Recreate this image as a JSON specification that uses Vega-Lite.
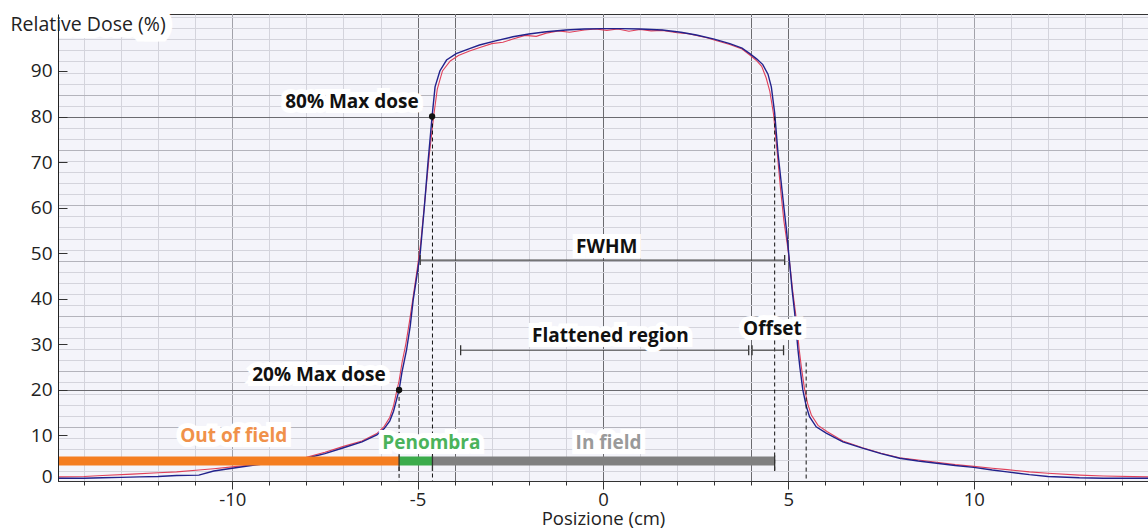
{
  "$schema": "https://vega.github.io/schema/vega-lite/v6.json",
  "width": 1090,
  "height": 467,
  "autosize": {"type": "none"},
  "padding": {"left": 58, "top": 14, "right": 0, "bottom": 48},
  "background": "white",
  "config": {
    "view": {"fill": "#f4f4fa", "stroke": "#333333", "strokeWidth": 1},
    "font": "Open Sans"
  },
  "datasets": {
    "profile": [
      {"profile": "red", "x": -14.7, "dose": 0.9}, {"profile": "red", "x": -14.0, "dose": 1.0}, {"profile": "red", "x": -13.5, "dose": 1.2},
      {"profile": "red", "x": -12.7, "dose": 1.5}, {"profile": "red", "x": -12.0, "dose": 1.8}, {"profile": "red", "x": -11.5, "dose": 2.0},
      {"profile": "red", "x": -10.9, "dose": 2.4}, {"profile": "red", "x": -10.5, "dose": 2.7}, {"profile": "red", "x": -10.0, "dose": 3.1},
      {"profile": "red", "x": -9.5, "dose": 3.5}, {"profile": "red", "x": -9.0, "dose": 4.0}, {"profile": "red", "x": -8.5, "dose": 4.5},
      {"profile": "red", "x": -8.0, "dose": 5.2}, {"profile": "red", "x": -7.5, "dose": 6.3}, {"profile": "red", "x": -7.0, "dose": 7.6},
      {"profile": "red", "x": -6.5, "dose": 8.8}, {"profile": "red", "x": -6.1, "dose": 10.4}, {"profile": "red", "x": -5.9, "dose": 12.0},
      {"profile": "red", "x": -5.75, "dose": 14.0}, {"profile": "red", "x": -5.65, "dose": 16.5}, {"profile": "red", "x": -5.57, "dose": 19.5},
      {"profile": "red", "x": -5.5, "dose": 22.0}, {"profile": "red", "x": -5.42, "dose": 26.0}, {"profile": "red", "x": -5.32, "dose": 30.0},
      {"profile": "red", "x": -5.22, "dose": 35.0}, {"profile": "red", "x": -5.12, "dose": 40.5}, {"profile": "red", "x": -5.02, "dose": 46.0},
      {"profile": "red", "x": -4.92, "dose": 52.0}, {"profile": "red", "x": -4.8, "dose": 62.0}, {"profile": "red", "x": -4.68, "dose": 72.0},
      {"profile": "red", "x": -4.56, "dose": 80.5}, {"profile": "red", "x": -4.47, "dose": 86.0}, {"profile": "red", "x": -4.33, "dose": 90.0},
      {"profile": "red", "x": -4.12, "dose": 92.2}, {"profile": "red", "x": -3.9, "dose": 93.4}, {"profile": "red", "x": -3.6, "dose": 94.4},
      {"profile": "red", "x": -3.3, "dose": 95.2}, {"profile": "red", "x": -3.0, "dose": 96.0}, {"profile": "red", "x": -2.7, "dose": 96.3},
      {"profile": "red", "x": -2.43, "dose": 97.0}, {"profile": "red", "x": -2.1, "dose": 97.8}, {"profile": "red", "x": -1.8, "dose": 97.6},
      {"profile": "red", "x": -1.53, "dose": 98.3}, {"profile": "red", "x": -1.2, "dose": 98.8}, {"profile": "red", "x": -0.9, "dose": 98.5},
      {"profile": "red", "x": -0.5, "dose": 99.0}, {"profile": "red", "x": -0.2, "dose": 99.2}, {"profile": "red", "x": 0.1, "dose": 98.9},
      {"profile": "red", "x": 0.4, "dose": 99.2}, {"profile": "red", "x": 0.7, "dose": 98.7}, {"profile": "red", "x": 1.0, "dose": 99.1},
      {"profile": "red", "x": 1.3, "dose": 98.8}, {"profile": "red", "x": 1.6, "dose": 98.9}, {"profile": "red", "x": 2.0, "dose": 98.4},
      {"profile": "red", "x": 2.3, "dose": 98.2}, {"profile": "red", "x": 2.52, "dose": 97.8}, {"profile": "red", "x": 2.8, "dose": 97.3},
      {"profile": "red", "x": 3.0, "dose": 96.8}, {"profile": "red", "x": 3.42, "dose": 95.8}, {"profile": "red", "x": 3.75, "dose": 94.8},
      {"profile": "red", "x": 3.96, "dose": 93.5}, {"profile": "red", "x": 4.15, "dose": 92.2}, {"profile": "red", "x": 4.28, "dose": 91.0},
      {"profile": "red", "x": 4.4, "dose": 88.5}, {"profile": "red", "x": 4.5, "dose": 85.5}, {"profile": "red", "x": 4.6, "dose": 80.5},
      {"profile": "red", "x": 4.7, "dose": 72.0}, {"profile": "red", "x": 4.79, "dose": 64.0}, {"profile": "red", "x": 4.88, "dose": 57.0},
      {"profile": "red", "x": 4.97, "dose": 52.0}, {"profile": "red", "x": 5.04, "dose": 47.5}, {"profile": "red", "x": 5.12, "dose": 41.5},
      {"profile": "red", "x": 5.2, "dose": 36.5}, {"profile": "red", "x": 5.29, "dose": 29.0}, {"profile": "red", "x": 5.35, "dose": 25.0},
      {"profile": "red", "x": 5.43, "dose": 20.5}, {"profile": "red", "x": 5.52, "dose": 17.0}, {"profile": "red", "x": 5.62, "dose": 14.5},
      {"profile": "red", "x": 5.8, "dose": 12.2}, {"profile": "red", "x": 6.05, "dose": 10.8}, {"profile": "red", "x": 6.47, "dose": 8.8},
      {"profile": "red", "x": 7.0, "dose": 7.3}, {"profile": "red", "x": 7.5, "dose": 6.1}, {"profile": "red", "x": 8.0, "dose": 5.1},
      {"profile": "red", "x": 8.5, "dose": 4.6}, {"profile": "red", "x": 9.0, "dose": 4.1}, {"profile": "red", "x": 9.5, "dose": 3.6},
      {"profile": "red", "x": 10.0, "dose": 3.2}, {"profile": "red", "x": 10.5, "dose": 2.8}, {"profile": "red", "x": 10.9, "dose": 2.5},
      {"profile": "red", "x": 11.5, "dose": 2.0}, {"profile": "red", "x": 12.0, "dose": 1.7}, {"profile": "red", "x": 12.85, "dose": 1.3},
      {"profile": "red", "x": 13.5, "dose": 1.1}, {"profile": "red", "x": 14.7, "dose": 0.9},
      {"profile": "blue", "x": -14.7, "dose": 0.6}, {"profile": "blue", "x": -14.0, "dose": 0.6}, {"profile": "blue", "x": -13.5, "dose": 0.7},
      {"profile": "blue", "x": -13.0, "dose": 0.8}, {"profile": "blue", "x": -12.5, "dose": 0.9}, {"profile": "blue", "x": -12.0, "dose": 1.0},
      {"profile": "blue", "x": -11.5, "dose": 1.2}, {"profile": "blue", "x": -10.9, "dose": 1.3}, {"profile": "blue", "x": -10.5, "dose": 2.2},
      {"profile": "blue", "x": -10.0, "dose": 2.8}, {"profile": "blue", "x": -9.4, "dose": 3.5}, {"profile": "blue", "x": -9.0, "dose": 3.9},
      {"profile": "blue", "x": -8.5, "dose": 4.4}, {"profile": "blue", "x": -8.0, "dose": 5.0}, {"profile": "blue", "x": -7.5, "dose": 6.0},
      {"profile": "blue", "x": -7.0, "dose": 7.3}, {"profile": "blue", "x": -6.5, "dose": 8.6}, {"profile": "blue", "x": -6.1, "dose": 10.1},
      {"profile": "blue", "x": -5.9, "dose": 11.5}, {"profile": "blue", "x": -5.75, "dose": 13.2}, {"profile": "blue", "x": -5.65, "dose": 15.3},
      {"profile": "blue", "x": -5.57, "dose": 17.8}, {"profile": "blue", "x": -5.5, "dose": 20.0}, {"profile": "blue", "x": -5.42, "dose": 24.0},
      {"profile": "blue", "x": -5.3, "dose": 28.7}, {"profile": "blue", "x": -5.2, "dose": 34.0}, {"profile": "blue", "x": -5.12, "dose": 39.7},
      {"profile": "blue", "x": -5.02, "dose": 45.0}, {"profile": "blue", "x": -4.93, "dose": 50.0}, {"profile": "blue", "x": -4.82, "dose": 60.0},
      {"profile": "blue", "x": -4.72, "dose": 70.0}, {"profile": "blue", "x": -4.61, "dose": 80.0}, {"profile": "blue", "x": -4.53, "dose": 86.5},
      {"profile": "blue", "x": -4.4, "dose": 90.0}, {"profile": "blue", "x": -4.22, "dose": 92.4}, {"profile": "blue", "x": -3.96, "dose": 93.8},
      {"profile": "blue", "x": -3.6, "dose": 94.9}, {"profile": "blue", "x": -3.33, "dose": 95.7}, {"profile": "blue", "x": -2.9, "dose": 96.6},
      {"profile": "blue", "x": -2.43, "dose": 97.5}, {"profile": "blue", "x": -2.0, "dose": 98.1}, {"profile": "blue", "x": -1.53, "dose": 98.6},
      {"profile": "blue", "x": -1.0, "dose": 99.0}, {"profile": "blue", "x": -0.5, "dose": 99.2}, {"profile": "blue", "x": 0.0, "dose": 99.3},
      {"profile": "blue", "x": 0.5, "dose": 99.3}, {"profile": "blue", "x": 1.0, "dose": 99.2}, {"profile": "blue", "x": 1.6, "dose": 99.0},
      {"profile": "blue", "x": 2.1, "dose": 98.5}, {"profile": "blue", "x": 2.52, "dose": 97.9}, {"profile": "blue", "x": 3.0, "dose": 97.0},
      {"profile": "blue", "x": 3.42, "dose": 96.0}, {"profile": "blue", "x": 3.75, "dose": 95.0}, {"profile": "blue", "x": 3.96, "dose": 93.8},
      {"profile": "blue", "x": 4.15, "dose": 92.6}, {"profile": "blue", "x": 4.31, "dose": 91.4}, {"profile": "blue", "x": 4.45, "dose": 89.3},
      {"profile": "blue", "x": 4.54, "dose": 86.5}, {"profile": "blue", "x": 4.63, "dose": 80.8}, {"profile": "blue", "x": 4.72, "dose": 72.0},
      {"profile": "blue", "x": 4.8, "dose": 66.0}, {"profile": "blue", "x": 4.88, "dose": 60.0}, {"profile": "blue", "x": 4.95, "dose": 55.0},
      {"profile": "blue", "x": 5.02, "dose": 49.0}, {"profile": "blue", "x": 5.1, "dose": 42.0}, {"profile": "blue", "x": 5.17, "dose": 36.9},
      {"profile": "blue", "x": 5.26, "dose": 28.7}, {"profile": "blue", "x": 5.31, "dose": 25.0}, {"profile": "blue", "x": 5.39, "dose": 20.0},
      {"profile": "blue", "x": 5.48, "dose": 16.5}, {"profile": "blue", "x": 5.57, "dose": 14.1}, {"profile": "blue", "x": 5.75, "dose": 11.9},
      {"profile": "blue", "x": 6.02, "dose": 10.5}, {"profile": "blue", "x": 6.47, "dose": 8.6}, {"profile": "blue", "x": 7.0, "dose": 7.2},
      {"profile": "blue", "x": 7.5, "dose": 6.0}, {"profile": "blue", "x": 8.0, "dose": 5.0}, {"profile": "blue", "x": 8.5, "dose": 4.4},
      {"profile": "blue", "x": 9.0, "dose": 3.9}, {"profile": "blue", "x": 9.5, "dose": 3.4}, {"profile": "blue", "x": 10.0, "dose": 3.0},
      {"profile": "blue", "x": 10.5, "dose": 2.4}, {"profile": "blue", "x": 10.9, "dose": 2.0}, {"profile": "blue", "x": 11.5, "dose": 1.4},
      {"profile": "blue", "x": 12.0, "dose": 1.0}, {"profile": "blue", "x": 12.85, "dose": 0.7}, {"profile": "blue", "x": 13.5, "dose": 0.6},
      {"profile": "blue", "x": 14.7, "dose": 0.6}
    ],
    "bars": [
      {"group": "out", "x": -14.7, "x2": -5.5, "y": 4.4},
      {"group": "pen", "x": -5.5, "x2": -4.6, "y": 4.4},
      {"group": "in", "x": -4.6, "x2": 4.63, "y": 4.4}
    ],
    "dashes": [
      {"x": -5.5, "y": 20, "y2": 0},
      {"x": -4.6, "y": 80, "y2": 0},
      {"x": 4.63, "y": 80, "y2": 2.4},
      {"x": 5.48, "y": 26, "y2": 0}
    ],
    "measures": [
      {"name": "FWHM", "x": -4.93, "x2": 4.9, "y": 48.5},
      {"name": "Flattened region", "x": -3.84, "x2": 3.93, "y": 28.7},
      {"name": "Offset", "x": 4.02, "x2": 4.87, "y": 28.7}
    ],
    "caps": [
      {"x": -4.93, "y": 47.4, "y2": 49.6},
      {"x": 4.9, "y": 47.4, "y2": 49.6},
      {"x": -3.84, "y": 27.6, "y2": 29.8},
      {"x": 3.93, "y": 27.6, "y2": 29.8},
      {"x": 4.02, "y": 27.6, "y2": 29.8},
      {"x": 4.87, "y": 27.6, "y2": 29.8},
      {"x": -5.5, "y": 2.2, "y2": 5.6},
      {"x": -4.6, "y": 2.2, "y2": 5.6},
      {"x": 4.63, "y": 2.2, "y2": 5.6}
    ],
    "points": [
      {"x": -4.61, "y": 80},
      {"x": -5.5, "y": 20}
    ],
    "labels": [
      {"text": "80% Max dose", "x": -4.97, "y": 83.2, "group": "note"},
      {"text": "20% Max dose", "x": -5.86, "y": 23.3, "group": "note"},
      {"text": "FWHM", "x": 0.1, "y": 51.4, "group": "note"},
      {"text": "Flattened region", "x": 0.2, "y": 31.8, "group": "note"},
      {"text": "Offset", "x": 4.57, "y": 33.4, "group": "note"},
      {"text": "Out of field", "x": -9.96, "y": 9.9, "group": "out"},
      {"text": "Penombra", "x": -4.63, "y": 8.3, "group": "pen"},
      {"text": "In field", "x": 0.15, "y": 8.3, "group": "in"}
    ],
    "title": [
      {"text": "Relative Dose (%)", "x": -16.0, "y": 100.3}
    ]
  },
  "resolve": {"axis": {"x": "independent", "y": "independent"}},
  "layer": [
    {
      "data": {"name": "profile"},
      "transform": [{"filter": "datum.profile === 'red'"}],
      "mark": {"type": "line", "color": "#e0405a", "strokeWidth": 1.1},
      "encoding": {
        "x": {"field": "x", "type": "quantitative",
          "scale": {"domain": [-14.7, 14.7], "nice": false, "zero": false},
          "axis": {"orient": "bottom", "values": [-14,-13,-12,-11,-10,-9,-8,-7,-6,-5,-4,-3,-2,-1,0,1,2,3,4,5,6,7,8,9,10,11,12,13,14],
            "grid": true, "gridColor": "#d4d4dc", "gridWidth": 1, "ticks": true, "tickSize": 4, "tickColor": "#333333",
            "labels": false, "domain": false, "title": null}},
        "y": {"field": "dose", "type": "quantitative",
          "scale": {"domain": [0, 102.5], "nice": false, "zero": false},
          "axis": {"orient": "left", "values": [2.18,4.61,7.04,9.47,11.9,14.33,16.76,19.19,21.62,24.05,26.48,28.91,31.34,33.77,36.2,38.63,41.06,43.49,45.92,48.35,50.78,53.21,55.64,58.07,60.5,62.93,65.36,67.79,70.22,72.65,75.08,77.51,79.94,82.37,84.8,87.23,89.66,92.09,94.52,96.95,99.38,101.81],
            "grid": true, "gridColor": "#d4d4dc", "gridWidth": 1, "ticks": false, "labels": false, "domain": false, "title": null}}
      }
    },
    {
      "data": {"name": "profile"},
      "transform": [{"filter": "datum.profile === 'blue'"}],
      "mark": {"type": "line", "color": "#22228c", "strokeWidth": 1.4},
      "encoding": {
        "x": {"field": "x", "type": "quantitative",
          "scale": {"domain": [-14.7, 14.7], "nice": false, "zero": false},
          "axis": {"orient": "bottom", "values": [-10,-5,-4,0,4,5,10],
            "grid": true, "gridColor": {"condition": {"test": "abs(datum.value) === 10", "value": "#a2a2aa"}, "value": "#6b6b70"},
            "gridWidth": 1, "ticks": false, "labels": false, "domain": false, "title": null}},
        "y": {"field": "dose", "type": "quantitative",
          "scale": {"domain": [0, 102.5], "nice": false, "zero": false},
          "axis": {"orient": "left", "values": [11.9,24.05,36.2,48.35,60.5,72.65,84.8,20,80],
            "grid": true, "gridColor": {"condition": {"test": "datum.value === 20 || datum.value === 80", "value": "#6b6b70"}, "value": "#b4b4bc"},
            "gridWidth": 1, "ticks": false, "labels": false, "domain": false, "title": null}}
      }
    },
    {
      "data": {"name": "dashes"},
      "mark": {"type": "rule", "color": "#111111", "strokeWidth": 1, "strokeDash": [4, 3]},
      "encoding": {
        "x": {"field": "x", "type": "quantitative", "scale": {"domain": [-14.7, 14.7], "nice": false, "zero": false}, "axis": null},
        "y": {"field": "y", "type": "quantitative", "scale": {"domain": [0, 102.5], "nice": false, "zero": false},
          "axis": {"orient": "left", "values": [0,10,20,30,40,50,60,70,80,90], "grid": false, "ticks": true, "tickSize": -9,
            "tickColor": "#333333", "labels": false, "domain": false, "title": null}},
        "y2": {"field": "y2"}
      }
    },
    {
      "data": {"name": "bars"},
      "mark": {"type": "rule", "strokeWidth": 9, "strokeCap": "butt"},
      "encoding": {
        "x": {"field": "x", "type": "quantitative", "scale": {"domain": [-14.7, 14.7], "nice": false, "zero": false},
          "axis": {"orient": "bottom", "values": [-10,-5,0,5,10], "grid": false, "ticks": true, "tickSize": 8, "tickColor": "#333333",
            "domain": true, "domainColor": "#333333", "labelFont": "Open Sans", "labelFontSize": 18.5, "labelColor": "#222222",
            "labelPadding": 1, "labelFlush": false,
            "labelExpr": "datum.value < 0 ? '-' + abs(datum.value) : '' + datum.value",
            "title": "Posizione (cm)", "titleFont": "Open Sans", "titleFontSize": 18.5, "titleFontWeight": "normal",
            "titleColor": "#222222", "titleBaseline": "bottom", "titleY": 47, "zindex": 1}},
        "x2": {"field": "x2"},
        "y": {"field": "y", "type": "quantitative", "scale": {"domain": [0, 102.5], "nice": false, "zero": false},
          "axis": {"orient": "left", "values": [0,10,20,30,40,50,60,70,80,90], "grid": false, "ticks": false,
            "domain": true, "domainColor": "#222222", "labelFont": "Open Sans", "labelFontSize": 19, "labelColor": "#222222",
            "labelPadding": 6, "labelFlush": false,
            "labelOffset": {"condition": {"test": "datum.value === 0", "value": -5}, "value": 0},
            "title": "Relative Dose (%)", "titleAngle": 0, "titleAlign": "left", "titleBaseline": "middle",
            "titleX": -48, "titleY": 10, "titleFont": "Open Sans", "titleFontSize": 19.5, "titleFontWeight": "normal",
            "titleColor": "#222222", "zindex": 1}},
        "color": {"field": "group", "type": "nominal",
          "scale": {"domain": ["out", "pen", "in"], "range": ["#f47d20", "#3bab4b", "#808080"]}, "legend": null}
      }
    },
    {
      "data": {"name": "caps"},
      "mark": {"type": "rule", "color": "#333333", "strokeWidth": 1.3},
      "encoding": {
        "x": {"field": "x", "type": "quantitative", "scale": {"domain": [-14.7, 14.7], "nice": false, "zero": false}, "axis": null},
        "y": {"field": "y", "type": "quantitative", "scale": {"domain": [0, 102.5], "nice": false, "zero": false}, "axis": null},
        "y2": {"field": "y2"}
      }
    },
    {
      "data": {"name": "measures"},
      "mark": {"type": "rule", "color": "#4a4a4a", "strokeWidth": 1.2},
      "encoding": {
        "x": {"field": "x", "type": "quantitative", "scale": {"domain": [-14.7, 14.7], "nice": false, "zero": false}, "axis": null},
        "x2": {"field": "x2"},
        "y": {"field": "y", "type": "quantitative", "scale": {"domain": [0, 102.5], "nice": false, "zero": false}, "axis": null}
      }
    },
    {
      "data": {"name": "points"},
      "mark": {"type": "point", "filled": true, "color": "#111111", "size": 40, "opacity": 1},
      "encoding": {
        "x": {"field": "x", "type": "quantitative", "scale": {"domain": [-14.7, 14.7], "nice": false, "zero": false}, "axis": null},
        "y": {"field": "y", "type": "quantitative", "scale": {"domain": [0, 102.5], "nice": false, "zero": false}, "axis": null}
      }
    },
    {
      "data": {"name": "title"},
      "mark": {"type": "text", "align": "left", "baseline": "middle", "font": "Open Sans", "fontSize": 19.5,
        "fill": "white", "stroke": "white", "strokeWidth": 16, "strokeJoin": "miter"},
      "encoding": {
        "x": {"field": "x", "type": "quantitative", "scale": {"domain": [-14.7, 14.7], "nice": false, "zero": false}, "axis": null},
        "y": {"field": "y", "type": "quantitative", "scale": {"domain": [0, 102.5], "nice": false, "zero": false}, "axis": null},
        "text": {"field": "text"}
      }
    },
    {
      "data": {"name": "labels"},
      "transform": [{"filter": "indexof(datum.text, 'Max dose') >= 0"}],
      "mark": {"type": "text", "align": "right", "baseline": "middle", "font": "Open Sans", "fontSize": 19, "fontWeight": "bold",
        "fill": "white", "stroke": "white", "strokeWidth": 10, "strokeJoin": "miter"},
      "encoding": {
        "x": {"field": "x", "type": "quantitative", "scale": {"domain": [-14.7, 14.7], "nice": false, "zero": false}, "axis": null},
        "y": {"field": "y", "type": "quantitative", "scale": {"domain": [0, 102.5], "nice": false, "zero": false}, "axis": null},
        "text": {"field": "text"}
      }
    },
    {
      "data": {"name": "labels"},
      "transform": [{"filter": "indexof(datum.text, 'Max dose') < 0"}],
      "mark": {"type": "text", "align": "center", "baseline": "middle", "font": "Open Sans", "fontSize": 19, "fontWeight": "bold",
        "fill": "white", "stroke": "white", "strokeWidth": 10, "strokeJoin": "miter"},
      "encoding": {
        "x": {"field": "x", "type": "quantitative", "scale": {"domain": [-14.7, 14.7], "nice": false, "zero": false}, "axis": null},
        "y": {"field": "y", "type": "quantitative", "scale": {"domain": [0, 102.5], "nice": false, "zero": false}, "axis": null},
        "text": {"field": "text"}
      }
    },
    {
      "data": {"name": "labels"},
      "transform": [{"filter": "indexof(datum.text, 'Max dose') >= 0"}],
      "mark": {"type": "text", "align": "right", "baseline": "middle", "font": "Open Sans", "fontSize": 19, "fontWeight": "bold"},
      "encoding": {
        "x": {"field": "x", "type": "quantitative", "scale": {"domain": [-14.7, 14.7], "nice": false, "zero": false}, "axis": null},
        "y": {"field": "y", "type": "quantitative", "scale": {"domain": [0, 102.5], "nice": false, "zero": false}, "axis": null},
        "text": {"field": "text"},
        "fill": {"field": "group", "type": "nominal",
          "scale": {"domain": ["note", "out", "pen", "in"], "range": ["#111111", "#f0914a", "#4bb35b", "#9a9a9a"]}, "legend": null}
      }
    },
    {
      "data": {"name": "labels"},
      "transform": [{"filter": "indexof(datum.text, 'Max dose') < 0"}],
      "mark": {"type": "text", "align": "center", "baseline": "middle", "font": "Open Sans", "fontSize": 19, "fontWeight": "bold"},
      "encoding": {
        "x": {"field": "x", "type": "quantitative", "scale": {"domain": [-14.7, 14.7], "nice": false, "zero": false}, "axis": null},
        "y": {"field": "y", "type": "quantitative", "scale": {"domain": [0, 102.5], "nice": false, "zero": false}, "axis": null},
        "text": {"field": "text"},
        "fill": {"field": "group", "type": "nominal",
          "scale": {"domain": ["note", "out", "pen", "in"], "range": ["#111111", "#f0914a", "#4bb35b", "#9a9a9a"]}, "legend": null}
      }
    }
  ]
}
